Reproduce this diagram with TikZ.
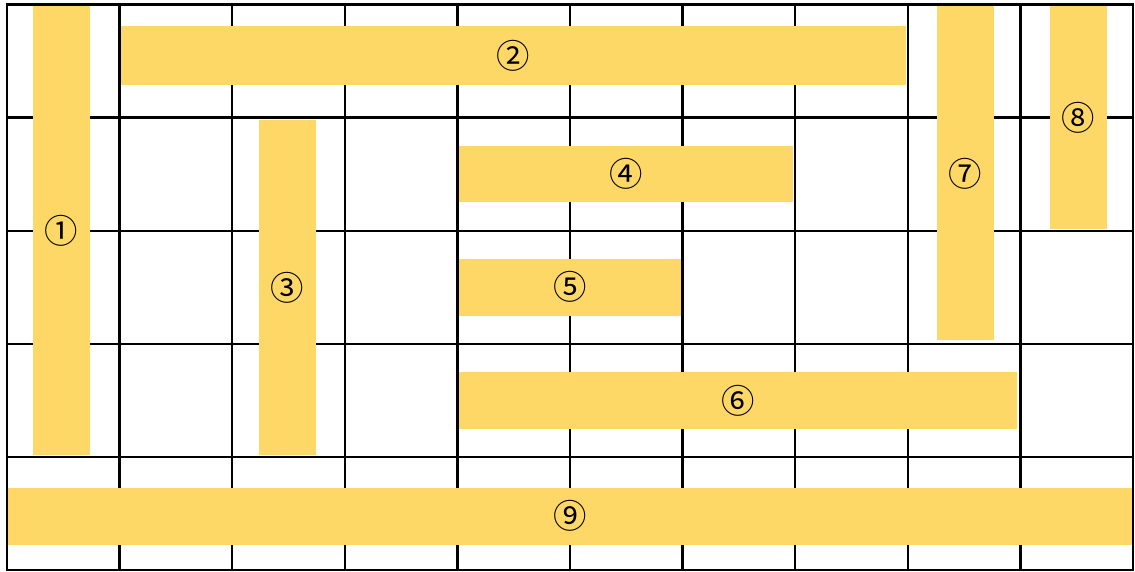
\documentclass[tikz,border=0pt]{standalone}
\usepackage{fontspec}
\newfontfamily\cjk{Noto Sans CJK JP}
\usetikzlibrary{fit}
\definecolor{barYellow}{RGB}{253,216,102}
\tikzset{
  gridline/.style={line width=1.3pt, draw=black, line cap=rect},
  barbox/.style={fill=barYellow, draw=none, inner sep=0pt},
  numlabel/.style={inner sep=0pt, font=\cjk\fontsize{19}{21}\selectfont}
}
\begin{document}
\begin{tikzpicture}[x=2.252cm, y=-2.262cm]
        \useasboundingbox (-0.062,-0.04) rectangle (10.018,5.009);
        \foreach \i in {0,...,10} \draw[gridline] (\i,0) -- (\i,5);
        \foreach \j in {0,...,5} \draw[gridline] (0,\j) -- (10,\j);
        \node[barbox, fit={(0.23,0.015) (0.735,3.985)}] (b1) {};
        \node[barbox, fit={(1.01,0.19) (7.98,0.71)}] (b2) {};
        \node[barbox, fit={(2.24,1.02) (2.745,3.985)}] (b3) {};
        \node[barbox, fit={(4.015,1.25) (6.98,1.75)}] (b4) {};
        \node[barbox, fit={(4.015,2.25) (5.985,2.75)}] (b5) {};
        \node[barbox, fit={(4.015,3.25) (8.97,3.75)}] (b6) {};
        \node[barbox, fit={(8.26,0.015) (8.765,2.97)}] (b7) {};
        \node[barbox, fit={(9.265,0.015) (9.77,1.985)}] (b8) {};
        \node[barbox, fit={(0.01,4.275) (9.99,4.775)}] (b9) {};
        \foreach \n/\t in {1/①,2/②,3/③,4/④,5/⑤,6/⑥,7/⑦,8/⑧,9/⑨}
          \node[numlabel] (l\n) at (b\n.center) {\t};
      \end{tikzpicture}
\end{document}
